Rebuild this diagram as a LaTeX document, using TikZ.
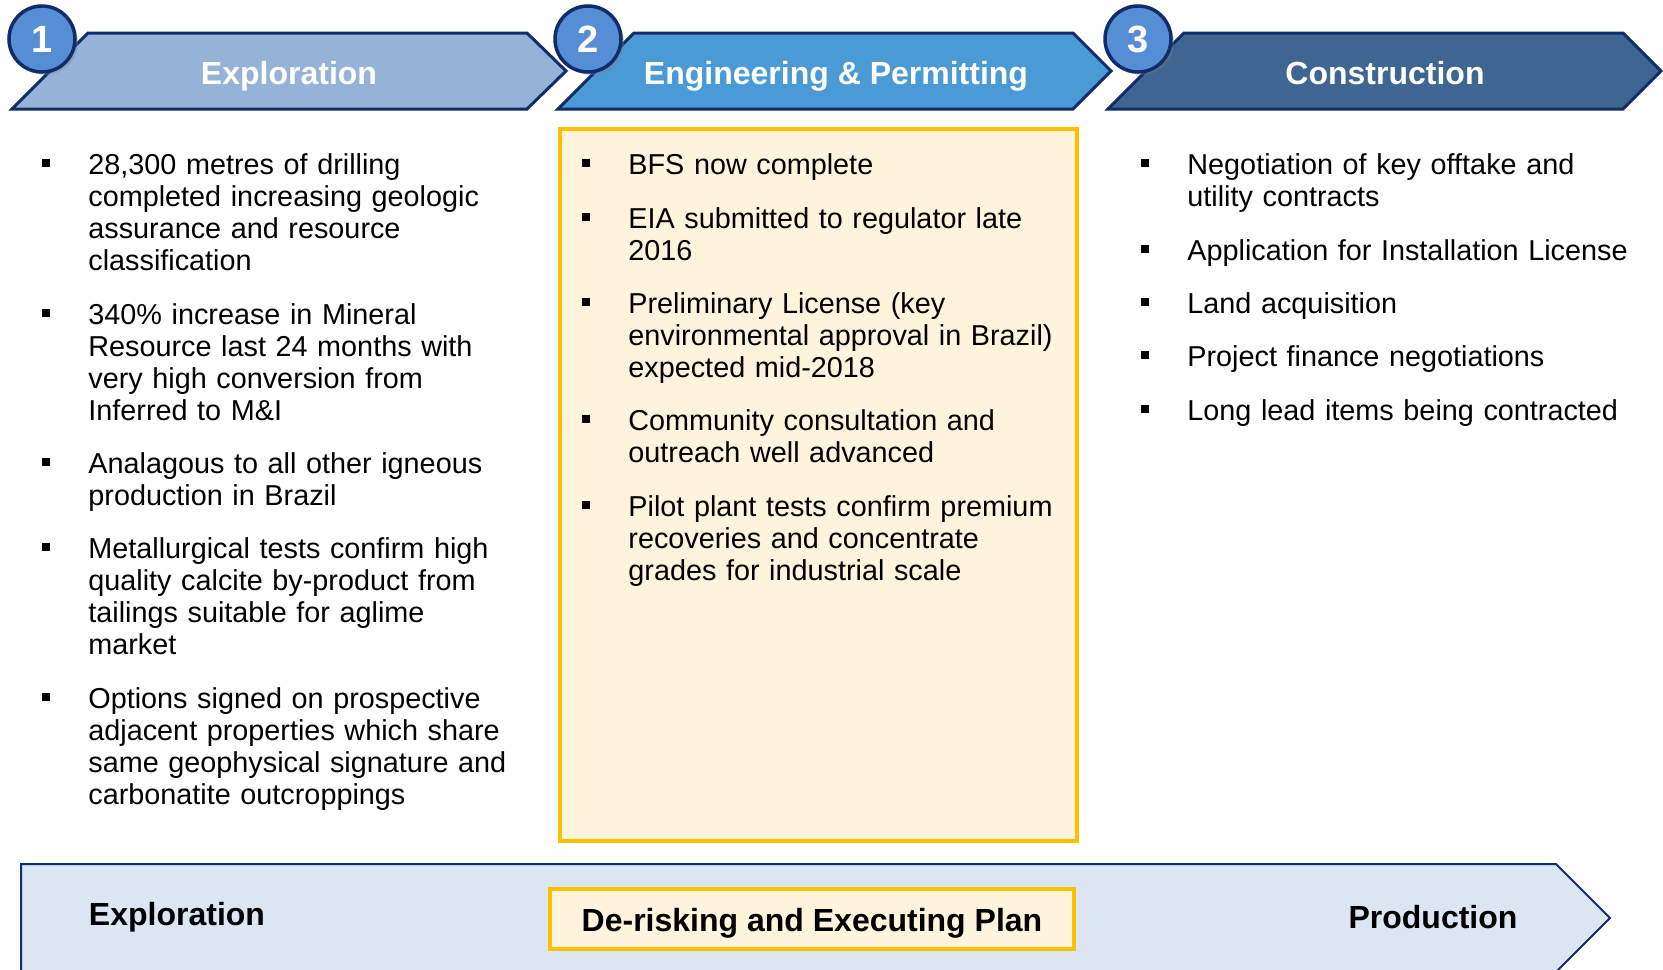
\documentclass[tikz,border=0pt]{standalone}
\usepackage{fontspec}
\setmainfont{Liberation Sans}
\usepackage{tikz}
\usetikzlibrary{shadows}
\definecolor{navy}{HTML}{112C6A}
\definecolor{phaseA}{HTML}{95B3D7}
\definecolor{phaseB}{HTML}{4A9BD5}
\definecolor{phaseC}{HTML}{3F6591}
\definecolor{numfill}{HTML}{568ED5}
\definecolor{gold}{HTML}{FFC000}
\definecolor{cream}{HTML}{FEF4DC}
\definecolor{barfill}{HTML}{DCE6F2}
\tikzstyle{roadmap}=[x=0.5pt, y=-0.5pt, font=\fontsize{14.4}{16}\selectfont]
\tikzstyle{phase}=[draw=navy, line width=1.5pt, line join=miter]
\tikzstyle{num}=[circle, draw=navy, line width=1.75pt, fill=numfill, minimum size=33pt, inner sep=0pt, text=white, font=\fontsize{19}{19}\selectfont\bfseries, drop shadow={shadow xshift=1.5pt, shadow yshift=-1.5pt, opacity=0.35}]
\tikzstyle{ptitle}=[anchor=base, inner sep=0pt, text=white, font=\fontsize{16}{16}\selectfont\bfseries]
\tikzstyle{btitle}=[anchor=base, inner sep=0pt, font=\fontsize{16}{16}\selectfont\bfseries]
\tikzstyle{bul}=[rectangle, fill=black, minimum size=4pt, inner sep=0pt]
\tikzstyle{txt}=[anchor=base west, inner sep=0pt, align=left, text width=235pt]
\tikzstyle{goldbox}=[draw=gold, line width=2pt, fill=cream]
\tikzstyle{bar}=[draw=navy, line width=1pt, fill=barfill, line join=miter]
\newcommand{\phTop}{33}
\newcommand{\phBot}{109}
\newcommand{\phMid}{71}
\newcommand{\bulL}{46}
\newcommand{\bulM}{586}
\newcommand{\bulR}{1145}
\newcommand{\txtL}{88}
\newcommand{\txtM}{628}
\newcommand{\txtR}{1187}
\begin{document}
\begin{tikzpicture}[roadmap]
	\useasboundingbox (0,0) rectangle (1663,969);
	%% phase banners
	\draw[phase, fill=phaseA] (12,\phBot) -- (88,\phTop) -- (527,\phTop) -- (566,\phMid) -- (527,\phBot) -- cycle;
	\draw[phase, fill=phaseB] (558,\phBot) -- (634,\phTop) -- (1073,\phTop) -- (1111,\phMid) -- (1073,\phBot) -- cycle;
	\draw[phase, fill=phaseC] (1108,\phBot) -- (1184,\phTop) -- (1623,\phTop) -- (1661,\phMid) -- (1623,\phBot) -- cycle;
	\draw (289,84) node[ptitle] (p1) {Exploration};
	\draw (836,84) node[ptitle] (p2) {Engineering \& Permitting};
	\draw (1385,84) node[ptitle] (p3) {Construction};
	\draw (42,39) node[num] (n1) {1};
	\draw (588,39) node[num] (n2) {2};
	\draw (1138,39) node[num] (n3) {3};
	%% highlighted column
	\draw[goldbox] (560,129) rectangle (1077,841);
	%% exploration items
	\draw (\bulL,163) node[bul] (lb1) {};
	\draw (\txtL,174) node[txt] (l1) {28,300 metres of drilling\\completed increasing geologic\\assurance and resource\\classification};
	\draw (\bulL,313) node[bul] (lb2) {};
	\draw (\txtL,324) node[txt] (l2) {340\% increase in Mineral\\Resource last 24 months with\\very high conversion from\\Inferred to M\&I};
	\draw (\bulL,462) node[bul] (lb3) {};
	\draw (\txtL,473) node[txt] (l3) {Analagous to all other igneous\\production in Brazil};
	\draw (\bulL,547) node[bul] (lb4) {};
	\draw (\txtL,558) node[txt] (l4) {Metallurgical tests confirm high\\quality calcite by-product from\\tailings suitable for aglime\\market};
	\draw (\bulL,697) node[bul] (lb5) {};
	\draw (\txtL,708) node[txt] (l5) {Options signed on prospective\\adjacent properties which share\\same geophysical signature and\\carbonatite outcroppings};
	%% engineering items
	\draw (\bulM,163) node[bul] (mb1) {};
	\draw (\txtM,174) node[txt] (m1) {BFS now complete};
	\draw (\bulM,217) node[bul] (mb2) {};
	\draw (\txtM,228) node[txt] (m2) {EIA submitted to regulator late\\2016};
	\draw (\bulM,302) node[bul] (mb3) {};
	\draw (\txtM,313) node[txt] (m3) {Preliminary License (key\\environmental approval in Brazil)\\expected mid-2018};
	\draw (\bulM,419) node[bul] (mb4) {};
	\draw (\txtM,430) node[txt] (m4) {Community consultation and\\outreach well advanced};
	\draw (\bulM,505) node[bul] (mb5) {};
	\draw (\txtM,516) node[txt] (m5) {Pilot plant tests confirm premium\\recoveries and concentrate\\grades for industrial scale};
	%% construction items
	\draw (\bulR,163) node[bul] (rb1) {};
	\draw (\txtR,174) node[txt] (r1) {Negotiation of key offtake and\\utility contracts};
	\draw (\bulR,249) node[bul] (rb2) {};
	\draw (\txtR,260) node[txt] (r2) {Application for Installation License};
	\draw (\bulR,302) node[bul] (rb3) {};
	\draw (\txtR,313) node[txt] (r3) {Land acquisition};
	\draw (\bulR,355) node[bul] (rb4) {};
	\draw (\txtR,366) node[txt] (r4) {Project finance negotiations};
	\draw (\bulR,409) node[bul] (rb5) {};
	\draw (\txtR,420) node[txt] (r5) {Long lead items being contracted};
	%% timeline bar
	\draw[bar] (21,864) -- (1556,864) -- (1610,918) -- (1556,972) -- (21,972) -- cycle;
	\draw[goldbox] (550,889) rectangle (1074,949);
	\draw (177,925) node[btitle] (b1) {Exploration};
	\draw (812,931) node[btitle] (b2) {De-risking and Executing Plan};
	\draw (1433,928) node[btitle] (b3) {Production};
\end{tikzpicture}
\end{document}
